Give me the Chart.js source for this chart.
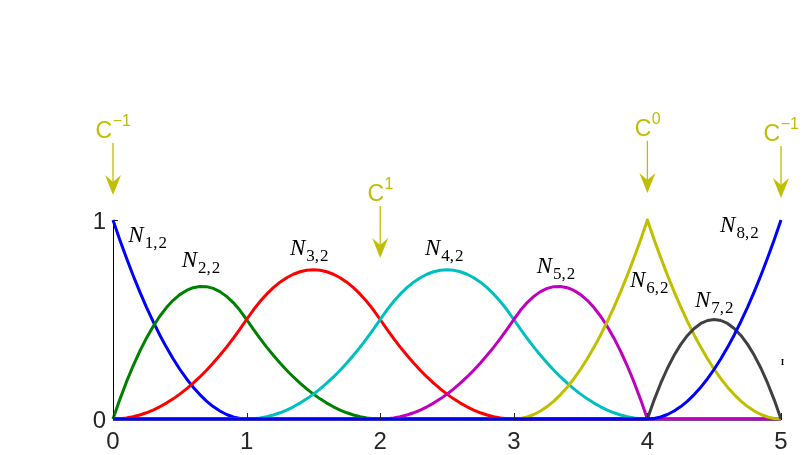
<!DOCTYPE html>
<html><head><meta charset="utf-8">
<script src="https://cdn.jsdelivr.net/npm/chart.js@4.4.1/dist/chart.umd.min.js"></script>
<style>html,body{margin:0;padding:0;background:#fff}canvas{display:block}</style>
</head><body>
<canvas id="c" width="810" height="455"></canvas>
<script>
// ---- data (B-spline basis values read at x = 0, 0.05, ..., 5) ----
const xs = [0,0.05,0.1,0.15,0.2,0.25,0.3,0.35,0.4,0.45,0.5,0.55,0.6,0.65,0.7,0.75,0.8,0.85,0.9,0.95,1,
  1.05,1.1,1.15,1.2,1.25,1.3,1.35,1.4,1.45,1.5,1.55,1.6,1.65,1.7,1.75,1.8,1.85,1.9,1.95,2,
  2.05,2.1,2.15,2.2,2.25,2.3,2.35,2.4,2.45,2.5,2.55,2.6,2.65,2.7,2.75,2.8,2.85,2.9,2.95,3,
  3.05,3.1,3.15,3.2,3.25,3.3,3.35,3.4,3.45,3.5,3.55,3.6,3.65,3.7,3.75,3.8,3.85,3.9,3.95,4,
  4.05,4.1,4.15,4.2,4.25,4.3,4.35,4.4,4.45,4.5,4.55,4.6,4.65,4.7,4.75,4.8,4.85,4.9,4.95,5];
const N1 = [1,.9025,.81,.7225,.64,.5625,.49,.4225,.36,.3025,.25,.2025,.16,.1225,.09,.0625,.04,.0225,.01,.0025,0,
  0,0,0,0,0,0,0,0,0,0,0,0,0,0,0,0,0,0,0,0,
  0,0,0,0,0,0,0,0,0,0,0,0,0,0,0,0,0,0,0,0,
  0,0,0,0,0,0,0,0,0,0,0,0,0,0,0,0,0,0,0,0,
  0,0,0,0,0,0,0,0,0,0,0,0,0,0,0,0,0,0,0,0];
const N2 = [0,.09625,.185,.26625,.34,.40625,.465,.51625,.56,.59625,.625,.64625,.66,.66625,.665,.65625,.64,.61625,.585,.54625,.5,
  .45125,.405,.36125,.32,.28125,.245,.21125,.18,.15125,.125,.10125,.08,.06125,.045,.03125,.02,.01125,.005,.00125,0,
  0,0,0,0,0,0,0,0,0,0,0,0,0,0,0,0,0,0,0,0,
  0,0,0,0,0,0,0,0,0,0,0,0,0,0,0,0,0,0,0,0,
  0,0,0,0,0,0,0,0,0,0,0,0,0,0,0,0,0,0,0,0];
const N3 = [0,.00125,.005,.01125,.02,.03125,.045,.06125,.08,.10125,.125,.15125,.18,.21125,.245,.28125,.32,.36125,.405,.45125,.5,
  .5475,.59,.6275,.66,.6875,.71,.7275,.74,.7475,.75,.7475,.74,.7275,.71,.6875,.66,.6275,.59,.5475,.5,
  .45125,.405,.36125,.32,.28125,.245,.21125,.18,.15125,.125,.10125,.08,.06125,.045,.03125,.02,.01125,.005,.00125,0,
  0,0,0,0,0,0,0,0,0,0,0,0,0,0,0,0,0,0,0,0,
  0,0,0,0,0,0,0,0,0,0,0,0,0,0,0,0,0,0,0,0];
const N4 = [0,0,0,0,0,0,0,0,0,0,0,0,0,0,0,0,0,0,0,0,0,
  .00125,.005,.01125,.02,.03125,.045,.06125,.08,.10125,.125,.15125,.18,.21125,.245,.28125,.32,.36125,.405,.45125,.5,
  .5475,.59,.6275,.66,.6875,.71,.7275,.74,.7475,.75,.7475,.74,.7275,.71,.6875,.66,.6275,.59,.5475,.5,
  .45125,.405,.36125,.32,.28125,.245,.21125,.18,.15125,.125,.10125,.08,.06125,.045,.03125,.02,.01125,.005,.00125,0,
  0,0,0,0,0,0,0,0,0,0,0,0,0,0,0,0,0,0,0,0];
const N5 = [0,0,0,0,0,0,0,0,0,0,0,0,0,0,0,0,0,0,0,0,0,
  0,0,0,0,0,0,0,0,0,0,0,0,0,0,0,0,0,0,0,0,
  .00125,.005,.01125,.02,.03125,.045,.06125,.08,.10125,.125,.15125,.18,.21125,.245,.28125,.32,.36125,.405,.45125,.5,
  .54625,.585,.61625,.64,.65625,.665,.66625,.66,.64625,.625,.59625,.56,.51625,.465,.40625,.34,.26625,.185,.09625,0,
  0,0,0,0,0,0,0,0,0,0,0,0,0,0,0,0,0,0,0,0];
const N6 = [0,0,0,0,0,0,0,0,0,0,0,0,0,0,0,0,0,0,0,0,0,
  0,0,0,0,0,0,0,0,0,0,0,0,0,0,0,0,0,0,0,0,
  0,0,0,0,0,0,0,0,0,0,0,0,0,0,0,0,0,0,0,0,
  .0025,.01,.0225,.04,.0625,.09,.1225,.16,.2025,.25,.3025,.36,.4225,.49,.5625,.64,.7225,.81,.9025,1,
  .9025,.81,.7225,.64,.5625,.49,.4225,.36,.3025,.25,.2025,.16,.1225,.09,.0625,.04,.0225,.01,.0025,0];
const N7 = [0,0,0,0,0,0,0,0,0,0,0,0,0,0,0,0,0,0,0,0,0,
  0,0,0,0,0,0,0,0,0,0,0,0,0,0,0,0,0,0,0,0,
  0,0,0,0,0,0,0,0,0,0,0,0,0,0,0,0,0,0,0,0,
  0,0,0,0,0,0,0,0,0,0,0,0,0,0,0,0,0,0,0,0,
  .095,.18,.255,.32,.375,.42,.455,.48,.495,.5,.495,.48,.455,.42,.375,.32,.255,.18,.095,0];
const N8 = [0,0,0,0,0,0,0,0,0,0,0,0,0,0,0,0,0,0,0,0,0,
  0,0,0,0,0,0,0,0,0,0,0,0,0,0,0,0,0,0,0,0,
  0,0,0,0,0,0,0,0,0,0,0,0,0,0,0,0,0,0,0,0,
  0,0,0,0,0,0,0,0,0,0,0,0,0,0,0,0,0,0,0,0,
  .0025,.01,.0225,.04,.0625,.09,.1225,.16,.2025,.25,.3025,.36,.4225,.49,.5625,.64,.7225,.81,.9025,1];
const seriesValues = [N1,N2,N3,N4,N5,N6,N7,N8];
const seriesSubs = ['1,2','2,2','3,2','4,2','5,2','6,2','7,2','8,2'];
const xTickValues = [0,1,2,3,4,5];
const yTickValues = [0,1];
const contLabels = ['\u22121','1','0','\u22121'];   // continuity superscripts
const contKnots = [0,2,4,5];                           // knot positions (x)

// ---- styling / annotation placement (not data) ----
const colors = ['#0000ff','#008000','#ff0000','#00bfbf','#bf00bf','#bfbf00','#404040','#0000ff'];
const labelPos = [[0.115,0.891],[0.514,0.765],[1.325,0.824],[2.335,0.824],
                  [3.171,0.732],[3.870,0.665],[4.356,0.564],[4.544,0.941]];
const arrowTipY = [1.126,0.809,1.136,1.111];
const annColor = '#bfbf00';

const datasets = seriesValues.map((vals,i)=>({
  label: 'N' + seriesSubs[i],
  data: xs.map((x,j)=>({x:x, y:vals[j]})),
  borderColor: colors[i],
  borderWidth: 3,
  borderJoinStyle: 'round',
  pointRadius: 0,
  fill: false,
  tension: 0,
  clip: false,
  order: seriesValues.length - i
}));

const annotPlugin = {
  id: 'annot',
  afterDatasetsDraw(chart){
    const ctx = chart.ctx, xS = chart.scales.x, yS = chart.scales.y;
    ctx.save();
    // inward tick marks
    ctx.strokeStyle = '#262626'; ctx.lineWidth = 1;
    const y0 = yS.getPixelForValue(0);
    xTickValues.forEach(v=>{
      const px = Math.round(xS.getPixelForValue(v)) + 0.5;
      ctx.beginPath(); ctx.moveTo(px, y0); ctx.lineTo(px, y0 - 6); ctx.stroke();
    });
    const x0 = xS.getPixelForValue(0);
    yTickValues.forEach(v=>{
      const py = Math.round(yS.getPixelForValue(v)) + 0.5;
      ctx.beginPath(); ctx.moveTo(x0, py); ctx.lineTo(x0 + 5, py); ctx.stroke();
    });
    // N labels
    ctx.fillStyle = '#000';
    ctx.textBaseline = 'alphabetic'; ctx.textAlign = 'left';
    seriesSubs.forEach((s,i)=>{
      const px = xS.getPixelForValue(labelPos[i][0]);
      const py = yS.getPixelForValue(labelPos[i][1]);
      ctx.font = 'italic 23px "Liberation Serif"';
      ctx.fillText('N', px, py);
      const w = ctx.measureText('N').width;
      ctx.font = '17px "Liberation Serif"';
      const parts = s.split(',');
      let cx = px + w + 1;
      ctx.fillText(parts[0], cx, py + 6); cx += ctx.measureText(parts[0]).width;
      ctx.fillText(',', cx, py + 6); cx += ctx.measureText(',').width + 1;
      ctx.fillText(parts[1], cx, py + 6);
    });
    // continuity annotations
    contKnots.forEach((k,i)=>{
      const ax = xS.getPixelForValue(k);
      const tip = yS.getPixelForValue(arrowTipY[i]);
      const tail = tip - 52;
      ctx.strokeStyle = annColor; ctx.fillStyle = annColor; ctx.lineWidth = 1.3;
      ctx.beginPath(); ctx.moveTo(ax, tail); ctx.lineTo(ax, tip - 12); ctx.stroke();
      ctx.beginPath();
      ctx.moveTo(ax, tip); ctx.lineTo(ax - 8, tip - 20); ctx.lineTo(ax, tip - 13);
      ctx.lineTo(ax + 8, tip - 20); ctx.closePath(); ctx.fill();
      ctx.font = '23px "Liberation Sans"';
      const wC = ctx.measureText('C').width;
      ctx.font = '16px "Liberation Sans"';
      const wS = ctx.measureText(contLabels[i]).width;
      const sx = ax - (wC + wS) / 2;
      const base = tail - 5;
      ctx.font = '23px "Liberation Sans"';
      ctx.fillText('C', sx, base);
      ctx.font = '16px "Liberation Sans"';
      ctx.fillText(contLabels[i], sx + wC + 0.5, base - 12);
    });
    // small stray glyph at right edge
    ctx.fillStyle = '#000'; ctx.font = 'bold 9px "Liberation Serif"';
    ctx.textAlign = 'center'; ctx.textBaseline = 'middle';
    ctx.fillText('I', xS.getPixelForValue(5.011), yS.getPixelForValue(0.283));
    ctx.restore();
  }
};

new Chart(document.getElementById('c'), {
  type: 'line',
  data: { datasets },
  options: {
    responsive: false, animation: false, devicePixelRatio: 1,
    layout: { padding: { top: 220, right: 29, left: 0, bottom: 0 } },
    plugins: { legend: { display: false }, tooltip: { enabled: false } },
    scales: {
      x: {
        type: 'linear', min: 0, max: 5,
        afterFit(s){ s.height = 36; },
        afterBuildTicks(s){ s.ticks = xTickValues.map(v=>({value:v})); },
        grid: { display: false, drawTicks: false },
        border: { display: true, color: '#000', width: 1 },
        ticks: { padding: 9, color: '#262626', font: { family: 'Liberation Sans', size: 24 },
                 maxRotation: 0, autoSkip: false }
      },
      y: {
        type: 'linear', min: 0, max: 1,
        afterFit(s){ s.width = 113; },
        afterBuildTicks(s){ s.ticks = yTickValues.map(v=>({value:v})); },
        grid: { display: false, drawTicks: false },
        border: { display: true, color: '#000', width: 1 },
        ticks: { padding: 7, labelOffset: 2, color: '#262626', font: { family: 'Liberation Sans', size: 24 } }
      }
    }
  },
  plugins: [annotPlugin]
});
</script>
</body></html>
